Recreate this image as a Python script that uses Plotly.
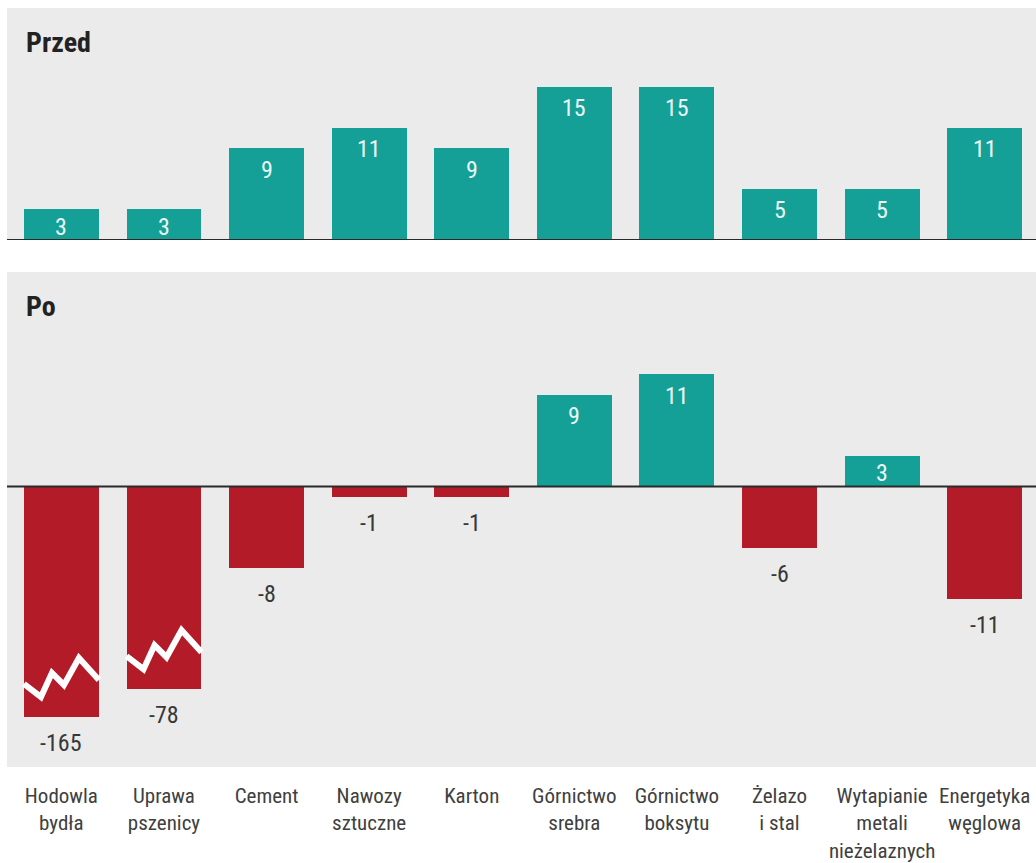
import plotly.graph_objects as go

# Categories and values (before / after)
categories = [
    "Hodowla<br>bydła", "Uprawa<br>pszenicy", "Cement", "Nawozy<br>sztuczne", "Karton",
    "Górnictwo<br>srebra", "Górnictwo<br>boksytu", "Żelazo<br>i stal",
    "Wytapianie<br>metali<br>nieżelaznych", "Energetyka<br>węglowa",
]
przed = [3, 3, 9, 11, 9, 15, 15, 5, 5, 11]
po = [-165, -78, -8, -1, -1, 9, 11, -6, 3, -11]

TEAL = "#14a096"
RED = "#b31b28"
BG = "#ebebeb"
INK = "#383838"
LABEL_INK = "#eaf7f5"
FONT = "'Liberation Sans Narrow', 'Roboto Condensed', Roboto, sans-serif"

PX_PER_UNIT = 10.2          # vertical scale shared by both panels
BREAK = -18.0               # axis break for very large losses
BREAK_SCALE = 1 / 32.0      # compression below the break
BAR_W = 0.73


def shown(v):
    """Broken-axis scale: values beyond the break are compressed."""
    if v < BREAK:
        return BREAK + (v - BREAK) * BREAK_SCALE
    return v


x = list(range(len(categories)))
po_shown = [shown(v) for v in po]

fig = go.Figure()

fig.add_trace(go.Bar(
    x=x, y=przed, width=BAR_W, marker=dict(color=TEAL, line=dict(width=0)),
    xaxis="x", yaxis="y", hovertemplate="%{y}<extra></extra>",
))
fig.add_trace(go.Bar(
    x=x, y=po_shown, width=BAR_W,
    marker=dict(color=[TEAL if v > 0 else RED for v in po], line=dict(width=0)),
    customdata=po, xaxis="x2", yaxis="y2", hovertemplate="%{customdata}<extra></extra>",
))

# zigzag break markers on the compressed bars (offsets: px from bar left edge, px above bar end)
zig = [(0, 33), (17, 20), (28, 44), (40, 32), (55, 59), (75, 37)]
pitch_px = 1029 / 10.03
zx, zy = [], []
for i, v in enumerate(po):
    if v < BREAK:
        left = i - BAR_W / 2
        for dx, dy in zig:
            zx.append(left + dx / pitch_px)
            zy.append(po_shown[i] + dy / PX_PER_UNIT)
        zx.append(None)
        zy.append(None)
fig.add_trace(go.Scatter(
    x=zx, y=zy, mode="lines", line=dict(color="white", width=6),
    xaxis="x2", yaxis="y2", hoverinfo="skip",
))

annotations = []


def pos_label_y(v):
    return v - min(2.1, 0.5 * v + 0.2)


for i, v in enumerate(przed):
    annotations.append(dict(
        x=i, y=pos_label_y(v), xref="x", yref="y", text=str(v), showarrow=False,
        yanchor="middle", font=dict(family=FONT, size=24, color=LABEL_INK),
    ))
for i, v in enumerate(po):
    if v > 0:
        annotations.append(dict(
            x=i, y=pos_label_y(v), xref="x2", yref="y2", text=str(v), showarrow=False,
            yanchor="middle", font=dict(family=FONT, size=24, color=LABEL_INK),
        ))
    else:
        annotations.append(dict(
            x=i, y=po_shown[i], xref="x2", yref="y2", text=str(v), showarrow=False,
            yanchor="middle", yshift=-26, font=dict(family=FONT, size=24, color=INK),
        ))

# panel titles
annotations.append(dict(
    x=0.0165, y=1 - 42 / 863, xref="paper", yref="paper", text="<b>Przed</b>",
    showarrow=False, xanchor="left", yanchor="middle",
    font=dict(family=FONT, size=28, color="#222222"),
))
annotations.append(dict(
    x=0.0165, y=1 - 307 / 863, xref="paper", yref="paper", text="<b>Po</b>",
    showarrow=False, xanchor="left", yanchor="middle",
    font=dict(family=FONT, size=28, color="#222222"),
))

shapes = [
    dict(type="line", xref="x domain", yref="y", x0=0, x1=1, y0=0, y1=0,
         line=dict(color="#2a2a2a", width=2)),
    dict(type="line", xref="x2 domain", yref="y2", x0=0, x1=1, y0=0, y1=0,
         line=dict(color="#2a2a2a", width=2)),
]

xrange = [-0.53, 9.5]
top_dom = [1 - 240 / 863, 1 - 8 / 863]
bot_dom = [1 - 767 / 863, 1 - 272 / 863]

fig.update_layout(
    width=1036, height=863,
    margin=dict(l=7, r=0, t=0, b=0),
    paper_bgcolor="white", plot_bgcolor=BG,
    showlegend=False, bargap=0,
    font=dict(family=FONT, color=INK),
    xaxis=dict(domain=[0, 1], range=xrange, anchor="y", showticklabels=False,
               showgrid=False, zeroline=False, fixedrange=True, automargin=False),
    yaxis=dict(domain=top_dom, range=[0, 232 / PX_PER_UNIT], showticklabels=False,
               showgrid=False, zeroline=False, fixedrange=True, automargin=False),
    xaxis2=dict(domain=[0, 1], range=xrange, anchor="y2", tickmode="array",
                tickvals=x, ticktext=categories, ticks="", tickangle=0, showgrid=False,
                zeroline=False, ticklabelstandoff=14, automargin=False,
                tickfont=dict(family=FONT, size=21, color="#404040"), fixedrange=True),
    yaxis2=dict(domain=bot_dom,
                range=[-(767 - 486.5) / PX_PER_UNIT, (486.5 - 272) / PX_PER_UNIT],
                showticklabels=False, showgrid=False, zeroline=False, fixedrange=True,
                automargin=False),
    annotations=annotations,
    shapes=shapes,
)

fig.write_html("out.html")
